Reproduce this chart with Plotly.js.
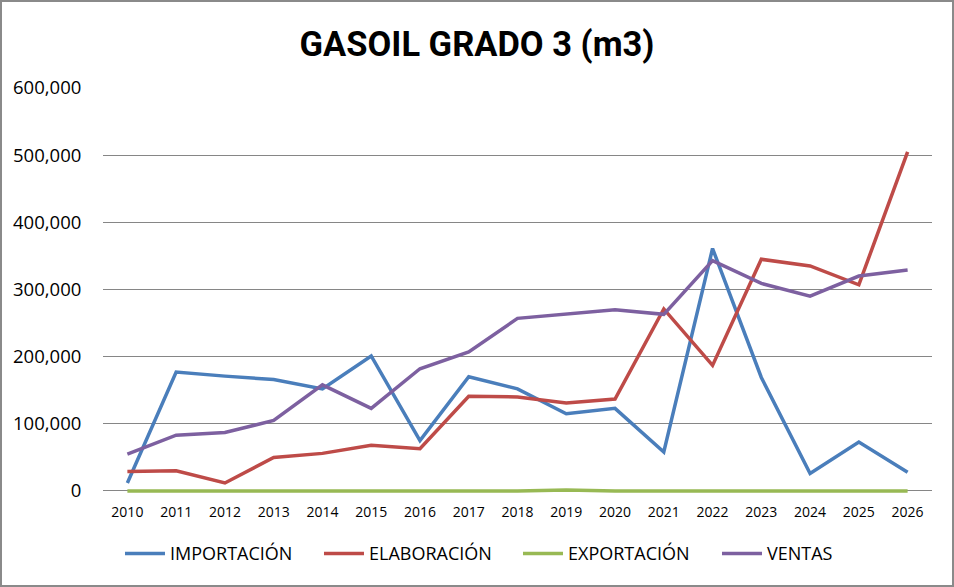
<!DOCTYPE html>
<html>
<head>
<meta charset="utf-8">
<script src="https://cdn.plot.ly/plotly-3.0.1.min.js"></script>
<style>
html,body{margin:0;padding:0;background:#fff;}
#wrap{position:relative;width:954px;height:587px;}
#chart{position:absolute;left:0;top:0;width:954px;height:587px;}
#frame{position:absolute;left:0;top:0;width:954px;height:587px;box-sizing:border-box;border:2px solid #8a8a8a;pointer-events:none;}
</style>
</head>
<body>
<div id="wrap"><div id="chart"></div><div id="frame"></div></div>
<script>
const years = ['2010','2011','2012','2013','2014','2015','2016','2017','2018','2019','2020','2021','2022','2023','2024','2025','2026'];
const importacion = [12000,177000,171000,166000,152000,201000,75000,170000,152000,115000,123000,58000,361000,169000,26000,73000,28000];
const elaboracion = [29000,30000,12000,50000,56000,68000,63000,141000,140000,131000,137000,271000,187000,345000,335000,307000,505000];
const exportacion = [0,0,0,0,0,0,0,0,0,1500,0,0,0,0,0,0,0];
const ventas = [55000,83000,87000,105000,158000,123000,182000,207000,257000,264000,270000,263000,343000,309000,290000,320000,329000];

const seriesNames = ['IMPORTACIÓN','ELABORACIÓN','EXPORTACIÓN','VENTAS'];
const seriesData = [importacion, elaboracion, exportacion, ventas];
const colors = ['#4a7ebb','#be4b48','#98b954','#7d60a0'];

const traces = seriesData.map((d,i)=>({
  x: years, y: d, name: seriesNames[i], type:'scatter', mode:'lines',
  line:{color:colors[i], width:3.5}
}));

const layout = {
  width:954, height:587,
  margin:{l:103, r:22, t:88, b:94},
  paper_bgcolor:'#fff', plot_bgcolor:'#fff',
  font:{family:'Open Sans, sans-serif', color:'#000'},
  title:{text:'GASOIL GRADO 3 (m3)', x:0.5, xanchor:'center', y:0.925, yanchor:'middle', font:{family:'Roboto, sans-serif', size:34.5, color:'#000', weight:'bold'}},
  xaxis:{type:'category', range:[-0.5,16.5], showgrid:false, zeroline:false, showline:false,
    ticks:'outside', ticklen:6, tickcolor:'rgba(0,0,0,0)', tickfont:{size:14, color:'#000'}},
  yaxis:{range:[-3000,600000], tickvals:[0,100000,200000,300000,400000,500000,600000], tickformat:',', showgrid:true, gridcolor:'#868686', gridwidth:1,
    zeroline:false, showline:false, ticks:'outside', ticklen:17, tickcolor:'rgba(0,0,0,0)',
    tickfont:{size:18.5, color:'#000'}},
  showlegend:true,
  legend:{orientation:'h', x:0.0205, xanchor:'left', y:-0.15, yanchor:'middle', font:{size:18, color:'#000'},
    itemwidth:40, entrywidth:144, entrywidthmode:'pixels', traceorder:'normal'}
};
Plotly.newPlot('chart', traces, layout, {displayModeBar:false, staticPlot:true});
</script>
</body>
</html>
